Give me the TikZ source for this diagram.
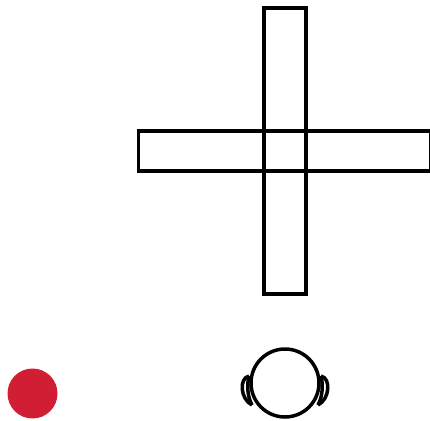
\documentclass[tikz,border=0pt]{standalone}
\usepackage{tikz}
\definecolor{dotred}{HTML}{D11E34}
\tikzset{
  bar/.style     = {rectangle, draw=black, line width=0.076cm, inner sep=0pt},
  head/.style    = {circle, draw=black, fill=white, line width=0.07cm,
                    minimum size=1.36cm, inner sep=0pt},
  dot/.style     = {circle, fill=dotred, minimum size=1cm, inner sep=0pt},
  ear/.style     = {black, line width=0.07cm},
}

\begin{document}
\begin{tikzpicture}[x=0.02cm, y=-0.02cm]
  \useasboundingbox (0,0) rectangle (430,420);
  % cross
  \node[bar, minimum width=5.85cm, minimum height=0.8cm] (hbar) at (284.7,151) {};
  \node[bar, minimum width=0.84cm, minimum height=5.72cm] (vbar) at (285,151) {};
  % ears first, the head covers their inner ends
  \foreach \s in {-1,1} {
    \draw[ear] (285+\s*36,376) .. controls (285+\s*46,378) and (285+\s*45,399) .. (285+\s*33,405);
    \draw[ear] (285+\s*36,376) .. controls (285+\s*38,384) and (285+\s*38,396) .. (285+\s*33,405);
  }
  \node[head] (head) at (285,383) {};
  \node[dot] (dot) at (32.5,393.5) {};
\end{tikzpicture}
\end{document}
